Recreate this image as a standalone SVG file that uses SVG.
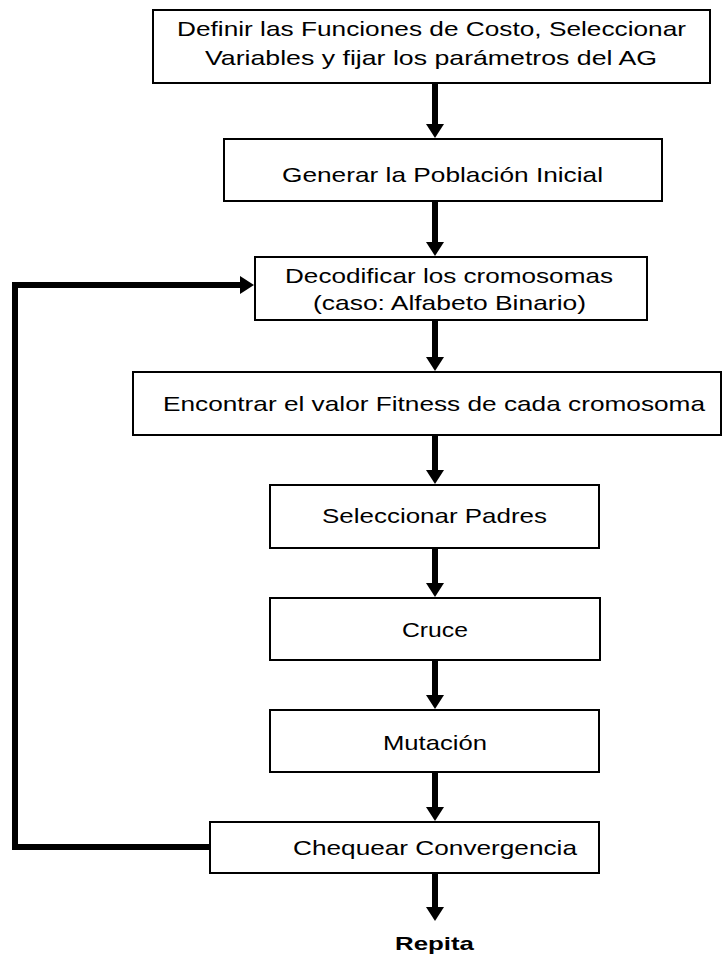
<svg xmlns="http://www.w3.org/2000/svg" width="726" height="957" viewBox="0 0 726 957">
<defs>
<marker id="ah" markerUnits="userSpaceOnUse" markerWidth="16" markerHeight="20" viewBox="0 -10 16 20" refX="1" refY="0" orient="auto">
<path d="M0,-9 L14,0 L0,9 Z" fill="#000"/>
</marker>
<style>
.box{fill:#fff;stroke:#000;stroke-width:2}
.t{font-family:"Liberation Sans",Arial,sans-serif;font-size:21px;fill:#000;text-anchor:middle}
.b{font-family:"Liberation Sans",Arial,sans-serif;font-size:19px;font-weight:bold;fill:#000;text-anchor:middle}
.c{fill:none;stroke:#000;stroke-width:6;marker-end:url(#ah)}
</style>
</defs>
<rect width="726" height="957" fill="#fff"/>
<g id="connectors">
<path class="c" d="M435,83 V125"/>
<path class="c" d="M435,201 V243"/>
<path class="c" d="M435,320 V358"/>
<path class="c" d="M435,435 V471"/>
<path class="c" d="M435,548 V584"/>
<path class="c" d="M435,660 V696"/>
<path class="c" d="M435,772 V808"/>
<path class="c" d="M435,873 V908"/>
<path class="c" d="M210,847 H15 V285 H241" stroke-linejoin="miter"/>
</g>
<g id="n1">
<rect class="box" x="153" y="10" width="557" height="73"/>
<text class="t" x="431.5" y="36" textLength="509" lengthAdjust="spacingAndGlyphs">Definir las Funciones de Costo, Seleccionar</text>
<text class="t" x="431" y="65" textLength="452" lengthAdjust="spacingAndGlyphs">Variables y fijar los parámetros del AG</text>
</g>
<g id="n2">
<rect class="box" x="224" y="139" width="438" height="62"/>
<text class="t" x="442.5" y="182" textLength="321" lengthAdjust="spacingAndGlyphs">Generar la Población Inicial</text>
</g>
<g id="n3">
<rect class="box" x="255" y="257" width="392" height="63"/>
<text class="t" x="449" y="283" textLength="328" lengthAdjust="spacingAndGlyphs">Decodificar los cromosomas</text>
<text class="t" x="449.5" y="310" textLength="273" lengthAdjust="spacingAndGlyphs">(caso: Alfabeto Binario)</text>
</g>
<g id="n4">
<rect class="box" x="133" y="372" width="588" height="63"/>
<text class="t" x="434" y="411" textLength="542" lengthAdjust="spacingAndGlyphs">Encontrar el valor Fitness de cada cromosoma</text>
</g>
<g id="n5">
<rect class="box" x="270" y="485" width="329" height="63"/>
<text class="t" x="434.5" y="523" textLength="225" lengthAdjust="spacingAndGlyphs">Seleccionar Padres</text>
</g>
<g id="n6">
<rect class="box" x="270" y="598" width="330" height="62"/>
<text class="t" x="435" y="637" textLength="66" lengthAdjust="spacingAndGlyphs">Cruce</text>
</g>
<g id="n7">
<rect class="box" x="270" y="710" width="329" height="62"/>
<text class="t" x="435" y="750" textLength="104" lengthAdjust="spacingAndGlyphs">Mutación</text>
</g>
<g id="n8">
<rect class="box" x="210" y="822" width="389" height="51"/>
<text class="t" x="435" y="855" textLength="284" lengthAdjust="spacingAndGlyphs">Chequear Convergencia</text>
</g>
<g id="n9">
<text class="b" x="434.5" y="950" textLength="79" lengthAdjust="spacingAndGlyphs">Repita</text>
</g>
</svg>
